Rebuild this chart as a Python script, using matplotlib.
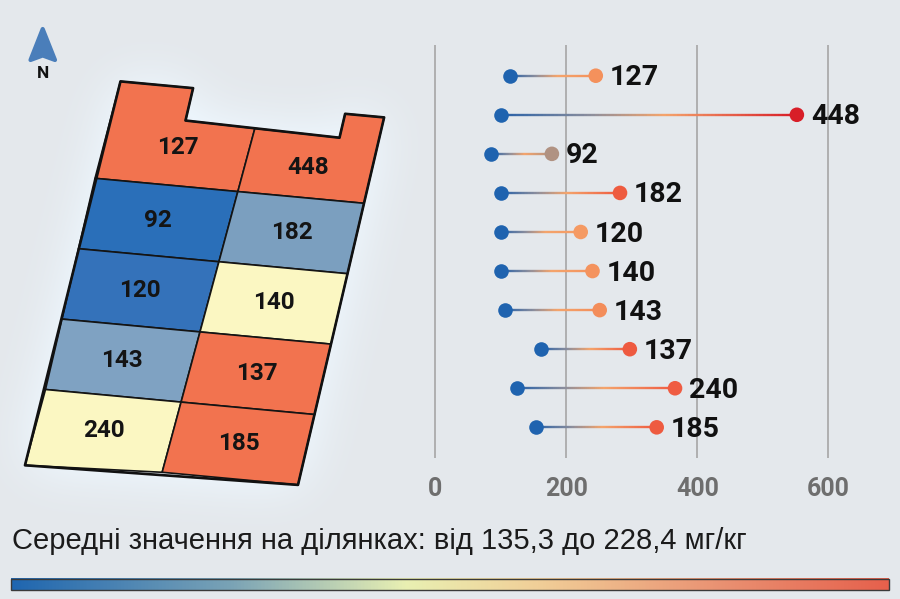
import numpy as np
import matplotlib
matplotlib.use('Agg')
import matplotlib.pyplot as plt
from matplotlib.patches import Polygon, Rectangle
from matplotlib.collections import LineCollection
from matplotlib.colors import LinearSegmentedColormap
from matplotlib.transforms import Affine2D
from matplotlib.path import Path

# ---------------- data ----------------
plot_values = [127, 448, 92, 182, 120, 140, 143, 137, 240, 185]
cell_colors = ['#F2734F', '#F2734F', '#2A6FB9', '#7B9FBF', '#3472BA',
               '#FBF7C2', '#7FA2C2', '#F2734F', '#FBF7C2', '#F2734F']
range_low = [114, 101, 85, 101, 101, 101, 107, 161, 125, 153]
range_high = [245, 552, 178, 282, 222, 240, 251, 297, 366, 338]
high_colors = ['#F4915C', '#D81E28', '#B09282', '#EE5B3F', '#F59A63',
               '#F4935E', '#F38D5A', '#EE5A40', '#EF5C42', '#EE5B40']
x_ticks = [0, 200, 400, 600]
caption = 'Середні значення на ділянках: від 135,3 до 228,4 мг/кг'
north_label = 'N'

# ---------------- figure ----------------
W, H = 900, 599
BG = '#E4E8EC'
fig = plt.figure(figsize=(W / 100, H / 100), dpi=100, facecolor=BG)
axb = fig.add_axes([0, 0, 1, 1])
axb.set_xlim(0, W)
axb.set_ylim(H, 0)
axb.axis('off')
axb.set_facecolor(BG)

# map geometry in local grid units (2 columns x 5 rows), skewed by an affine transform
map_tf = Affine2D(np.array([[134.5, -16.5, 111.5],
                            [12.5, 70.4, 107.9],
                            [0.0, 0.0, 1.0]]))


def div_u(v):
    return 1.08 - 0.018 * v


outline = [(0.02, -0.38), (0.56, -0.38), (0.56, 0.08), (1.71, 0.12), (1.71, -0.22),
           (2, -0.22), (2, 5), (-0.02, 5.08)]

# glow behind map
outline_px = map_tf.transform(np.array(outline, float))
pad = 120
Hp, Wp = H + 2 * pad, W + 2 * pad
yy, xx = np.mgrid[0:Hp, 0:Wp]
pts = np.column_stack([xx.ravel() - pad + 0.5, yy.ravel() - pad + 0.5])
mask = Path(outline_px).contains_points(pts).reshape(Hp, Wp).astype(float)
sigma = 26.0
ky = np.fft.fftfreq(Hp)[:, None]
kx = np.fft.fftfreq(Wp)[None, :]
G = np.exp(-2 * (np.pi * sigma) ** 2 * (kx ** 2 + ky ** 2))
blur = np.real(np.fft.ifft2(np.fft.fft2(mask) * G))[pad:pad + H, pad:pad + W]
glow = np.zeros((H, W, 4))
glow[..., 0] = 0.93
glow[..., 1] = 0.965
glow[..., 2] = 0.995
glow[..., 3] = np.clip(blur * 1.5, 0, 0.9)
axb.imshow(glow, extent=(0, W, H, 0), zorder=1, aspect='auto', interpolation='bilinear')

tr = map_tf + axb.transData
for i, (val, col) in enumerate(zip(plot_values, cell_colors)):
    r, c = divmod(i, 2)
    if r == 0 and c == 0:
        verts = [(0.02, -0.38), (0.56, -0.38), (0.56, 0.08), (div_u(0.1), 0.1),
                 (div_u(1), 1), (0, 1)]
        cx, cy = 0.55, 0.47
    elif r == 0 and c == 1:
        verts = [(div_u(0.1), 0.1), (1.71, 0.12), (1.71, -0.22), (2, -0.22),
                 (2, 1), (div_u(1), 1)]
        cx, cy = 1.53, 0.58
    elif r == 4 and c == 0:
        verts = [(0, r), (div_u(r), r), (div_u(r + 1), r + 1), (-0.02, r + 1.08)]
        cx, cy = div_u(r + 0.5) / 2, r + 0.5
    elif c == 0:
        verts = [(0, r), (div_u(r), r), (div_u(r + 1), r + 1), (0, r + 1)]
        cx, cy = div_u(r + 0.5) / 2, r + 0.5
    else:
        verts = [(div_u(r), r), (2, r), (2, r + 1), (div_u(r + 1), r + 1)]
        cx, cy = (div_u(r + 0.5) + 2) / 2, r + 0.5
    axb.add_patch(Polygon(verts, closed=True, facecolor=col, edgecolor='#141414',
                          lw=1.2, transform=tr, zorder=3, joinstyle='round'))
    axb.text(cx, cy, str(val), transform=tr, ha='center', va='center',
             fontsize=17.5, fontweight='bold', family='Roboto', color='#141414', zorder=5)

axb.add_patch(Polygon(outline, closed=True, fill=False, edgecolor='#111111', lw=1.9,
                      transform=tr, zorder=4, joinstyle='round'))

# north arrow
axb.add_patch(Polygon([(42.7, 29), (55, 60), (42.7, 55.5), (30.5, 60)], closed=True,
                      facecolor='#4A7EBA', edgecolor='#4A7EBA', lw=3, joinstyle='round', zorder=3))
axb.text(42.5, 74, north_label, ha='center', va='center', fontsize=12.5, fontweight='bold',
         family='Roboto', color='#111111')

# caption
axb.text(12, 541, caption, ha='left', va='center', fontsize=21, family='Liberation Sans',
         color='#1b1b1b', zorder=5)

# colour bar
cbar_cmap = LinearSegmentedColormap.from_list(
    'cb', [(0, '#1F66B0'), (0.25, '#7AA3B6'), (0.45, '#E9F0B2'), (0.6, '#F1CF98'),
           (0.8, '#EA9474'), (1, '#E6604C')])
axb.imshow(np.linspace(0, 1, 512)[None, :], cmap=cbar_cmap, aspect='auto',
           extent=(10.7, 888.7, 590.3, 579), zorder=2)
axb.add_patch(Rectangle((10.7, 579), 878, 11.3, fill=False, edgecolor='#3a3a3a', lw=1, zorder=3))
axb.set_xlim(0, W)
axb.set_ylim(H, 0)

# ---------------- dumbbell chart ----------------
ax = fig.add_axes([400 / W, 1 - 458 / H, 480 / W, 413 / H])
ax.patch.set_alpha(0)
ax.set_xlim((400 - 435.3) / 0.655, (880 - 435.3) / 0.655)
ypos = np.arange(len(plot_values))
ax.set_ylim(9.785, -0.786)
for t in x_ticks:
    ax.axvline(t, color='#ABABAB', lw=1.3, zorder=1)

for yi, lo, hi, hc in zip(ypos, range_low, range_high, high_colors):
    cm = LinearSegmentedColormap.from_list(
        'g', [(0, '#2A62A8'), (0.3, '#8C8E9C'), (0.55, '#F4A46C'), (1, hc)])
    xs = np.linspace(lo, hi, 80)
    segs = [[(xs[k], yi), (xs[k + 1], yi)] for k in range(len(xs) - 1)]
    lc = LineCollection(segs, colors=cm(np.linspace(0, 1, len(segs))), linewidths=1.7,
                        zorder=2, capstyle='butt')
    ax.add_collection(lc)

ax.scatter(range_low, ypos, s=10.5 ** 2, color='#1F63AF', zorder=3, linewidths=0)
ax.scatter(range_high, ypos, s=10.5 ** 2, color=high_colors, zorder=3, linewidths=0)
for yi, hi, v in zip(ypos, range_high, plot_values):
    ax.annotate(str(v), (hi, yi), xytext=(10, -1.5), textcoords='offset points',
                ha='left', va='center', fontsize=20.5, fontweight='bold',
                family='Roboto', color='#111111', zorder=4)

ax.set_xticks(x_ticks)
ax.set_xticklabels([str(t) for t in x_ticks], fontsize=18, fontweight='bold',
                   family='Roboto', color='#6E6E6E')
ax.tick_params(axis='x', length=0, pad=14)
ax.set_yticks([])
for s in ax.spines.values():
    s.set_visible(False)

fig.savefig('out.png', dpi=100, facecolor=BG)
